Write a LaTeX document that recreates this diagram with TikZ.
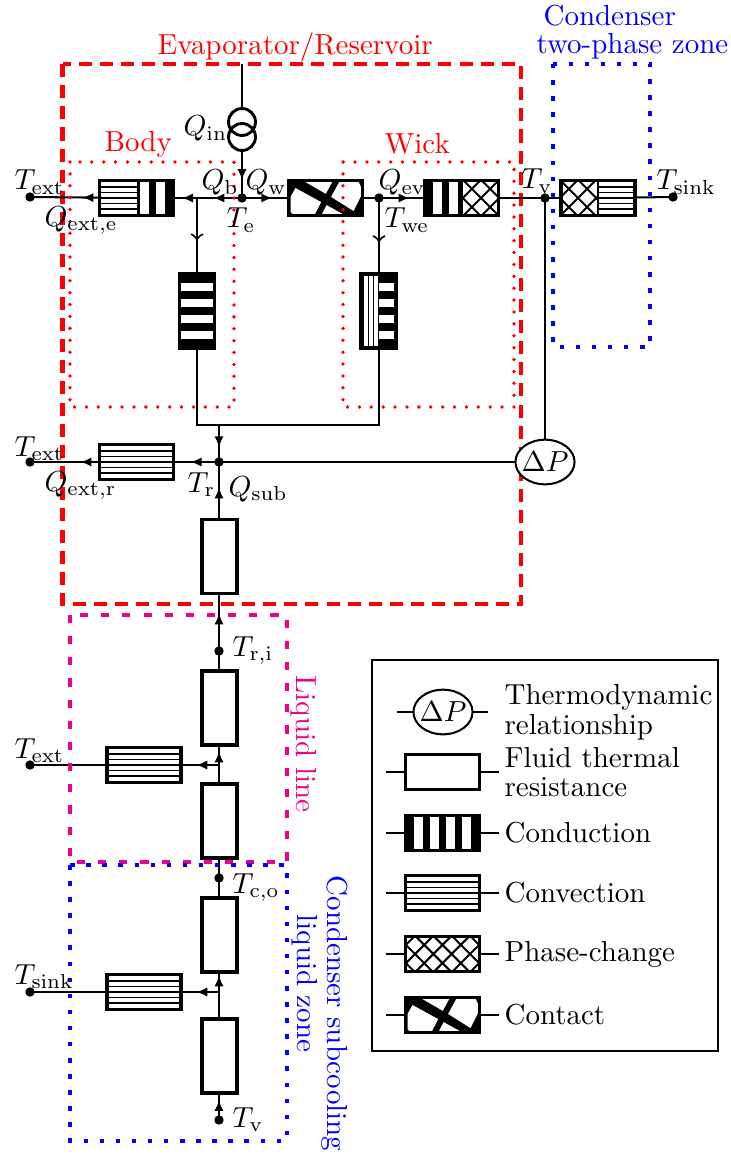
\documentclass[tikz,border=0pt]{standalone}
\usepackage{xcolor}
\usetikzlibrary{arrows.meta,shapes.geometric,decorations.markings}
\definecolor{framemagenta}{HTML}{EC008C}
\newcommand{\convzone}[2]{\foreach \yy in {-16.5,-11,-5.5,0,5.5,11,16.5} {\draw[line width=.4pt] (#1,\yy) -- (#2,\yy);}}
\newcommand{\convzonev}{\foreach \xx in {-15,-10,-5,0} {\draw[line width=.4pt] (\xx,-38) -- (\xx,38);}}
\newcommand{\condzone}[3]{\fill[black] (#1,-20) rectangle (#2,20); \foreach \xx in {#3} {\fill[white] (\xx-4.2,-17) rectangle (\xx+4.2,17);}}
\newcommand{\condzonev}[2]{\fill[black] (#1,-38) rectangle (#2,38); \foreach \yy in {-24,-8,8,24} {\fill[white] (#1,\yy-4.2) rectangle (#2,\yy+4.2);}}
\newcommand{\phasezone}[3]{\begin{scope}
    \clip (#1,-20) rectangle (#2,20);
    \foreach \kk in {-3,...,3} {
        \pgfmathsetmacro{\phc}{\kk*18.3+(#3)}
        \draw[line width=.7pt] (\phc-30,-30) -- (\phc+30,30);
        \draw[line width=.7pt] (\phc+30,-30) -- (\phc-30,30);
    }
\end{scope}}
\newcommand{\contactzone}{\fill[black] (-40,-20) rectangle (40,20);
    \fill[white] (-30,-10) -- (-4.3,4.1) -- (-11,17) -- (-32,17) -- (-35,14) -- (-35,-1) -- cycle;
    \fill[white] (-21,-16.5) -- (7,-16.5) -- (.3,-4.2) -- cycle;
    \fill[white] (14,-16.5) -- (33,-16.5) -- (36,-10) -- (36,-3) -- (28,13) -- (5.6,-1.1) -- cycle;
    \fill[white] (1.1,7.1) -- (19,17) -- (-4,17) -- cycle;}
\tikzset{
    wire/.style={line width=.7pt},
    flow/.style={wire,postaction={decorate},decoration={markings,mark=at position #1 with {\arrow{>}}}},
    openflow/.style={wire,postaction={decorate},decoration={markings,mark=at position #1 with {\arrow{to}}}},
    rbox/.style={draw,fill=white,line width=1.2pt,minimum width=25.6pt,minimum height=12.2pt,inner sep=0pt,outer sep=0pt},
    rboxv/.style={rbox,minimum width=12.2pt,minimum height=25.6pt},
    fluidbox/.style={rbox},
    fluidboxv/.style={rboxv},
    condbox/.style={rbox,path picture={\condzone{-40}{40}{-24,-8,8,24}}},
    convbox/.style={rbox,path picture={\convzone{-40}{40}}},
    phasebox/.style={rbox,path picture={\phasezone{-40}{40}{9.15}}},
    contactbox/.style={rbox,path picture={\contactzone}},
    relation/.style={draw,ellipse,line width=.7pt,fill=white,minimum width=20.4pt,minimum height=15.4pt,inner xsep=-1.1pt,inner ysep=0pt,outer sep=0pt},
    srccircle/.style={draw,circle,line width=1pt,minimum size=9.3pt,inner sep=0pt,outer sep=0pt},
    tnode/.style={draw,circle,fill=black,minimum size=2.8pt,inner sep=0pt,outer sep=0pt},
    lbl/.style={inner sep=0pt,anchor=base west},
    lblrot/.style={inner sep=0pt,anchor=base west,rotate=-90},
    legendtxt/.style={inner sep=0pt,anchor=west,align=left},
    reddash/.style={draw=red,line width=1.4pt,dash pattern=on 4.5pt off 2.8pt},
    reddot/.style={draw=red,line width=1.3pt,line cap=round,dash pattern=on 0pt off 4.1pt},
    bluedot/.style={draw=blue,line width=1.4pt,dash pattern=on 1.55pt off 4pt},
    magentadash/.style={draw=framemagenta,line width=1.2pt,dash pattern=on 2.8pt off 4.5pt}
}
\begin{document}
\begin{tikzpicture}[x=.345pt,y=-.345pt,font=\fontsize{10}{10.2}\selectfont,>={Latex[length=3.8pt,width=3.2pt]}]
    \useasboundingbox (0,0) rectangle (730,1156);

    \draw[reddash] (62.5,64) rectangle (521,604);

    \coordinate (qintop) at (242,64);
    \node[srccircle] (srctop) at (242,122) {};
    \node[srccircle] (srcbot) at (242,137) {};
    \node[tnode] (te) at (242,198) {};
    \coordinate (bodyjoin) at (197,198);
    \node[tnode] (extbody) at (30,197) {};
    \node[rbox,path picture={\convzone{-40}{0}\condzone{0}{40}{8,24}}] (bodyext) at (136.5,198) {};
    \node[contactbox] (wickcontact) at (325.5,198) {};
    \node[tnode] (we) at (379,198) {};
    \node[rbox,path picture={\condzone{-40}{1}{-24,-8}\phasezone{1}{40}{19.5}}] (wickevap) at (461.5,198) {};
    \node[tnode] (tv) at (545,198) {};
    \node[rbox,path picture={\phasezone{-40}{0}{-20}\convzone{0}{40}\draw[line width=.7pt] (0,-20) -- (0,20);}] (condtwo) at (598,198) {};
    \node[tnode] (sink) at (673,197) {};
    \node[rboxv,path picture={\condzonev{-20}{20}}] (bodycond) at (197,311) {};
    \node[rboxv,path picture={\convzonev\condzonev{0}{20}}] (wickcond) at (378.5,311) {};
    \coordinate (bodyleg) at (197,425);
    \coordinate (wickleg) at (379,425);
    \coordinate (resmerge) at (219,425);
    \node[tnode] (res) at (219,462) {};
    \node[convbox] (resext) at (136.5,462) {};
    \node[tnode] (extres) at (30,462) {};
    \node[relation] (dp) at (545,462) {\(\Delta P\)};
    \node[fluidboxv] (resfluid) at (219.5,556.5) {};
    \node[tnode] (ri) at (219,651) {};
    \node[fluidboxv] (lineup) at (219.5,708) {};
    \coordinate (linejoin) at (219,765);
    \node[fluidboxv] (linedown) at (219.5,821) {};
    \node[convbox] (lineconv) at (144,765) {};
    \node[tnode] (extline) at (30,765) {};
    \node[tnode] (co) at (219,878) {};
    \node[fluidboxv] (subup) at (219.5,935) {};
    \coordinate (subjoin) at (219,992);
    \node[fluidboxv] (subdown) at (219.5,1056) {};
    \node[convbox] (subconv) at (144,992) {};
    \node[tnode] (sinksub) at (30,992) {};
    \node[tnode] (tvsub) at (219,1120) {};

    \draw[wire] (qintop) -- (srctop);
    \draw[flow=.68] (srcbot) -- (te);
    \draw[flow=.6] (te) -- (bodyjoin);
    \draw[flow=.64] (bodyjoin) -- (bodyext);
    \draw[flow=.26] (bodyext) -- (extbody);
    \draw[flow=.62] (te) -- (wickcontact);
    \draw[wire] (wickcontact) -- (we);
    \draw[flow=.64] (we) -- (wickevap);
    \draw[wire] (wickevap) -- (tv);
    \draw[wire] (tv) -- (condtwo);
    \draw[wire] (condtwo) -- (sink);
    \draw[openflow=.56] (bodyjoin) -- (bodycond);
    \draw[openflow=.56] (we) -- (we |- wickcond.north);
    \draw[wire] (bodycond) -- (bodyleg) -- (wickleg) -- (we |- wickcond.south);
    \draw[flow=.68] (resmerge) -- (res);
    \draw[flow=.59] (res) -- (resext);
    \draw[flow=.29] (resext) -- (extres);
    \draw[wire] (res) -- (dp);
    \draw[wire] (tv) -- (dp);
    \draw[flow=.6] (res |- resfluid.north) -- (res);
    \draw[flow=.63] (ri) -- (res |- resfluid.south);
    \draw[wire] (ri) -- (ri |- lineup.north);
    \draw[flow=.84] (linejoin |- linedown.north) -- (linejoin |- lineup.south);
    \draw[flow=.6] (linejoin) -- (lineconv);
    \draw[wire] (lineconv) -- (extline);
    \draw[wire] (linejoin |- linedown.south) -- (co);
    \draw[wire] (co) -- (co |- subup.north);
    \draw[flow=.93] (subjoin |- subdown.north) -- (subjoin |- subup.south);
    \draw[flow=.6] (subjoin) -- (subconv);
    \draw[wire] (subconv) -- (sinksub);
    \draw[flow=.7] (tvsub) -- (tvsub |- subdown.south);

    \draw[reddot] (70,162) rectangle (234,407);
    \draw[reddot] (343,162) rectangle (514,407);
    \draw[bluedot] (553,64) rectangle (650,347);
    \draw[magentadash] (70,615) rectangle (287,862);
    \draw[bluedot] (70,865) rectangle (287,1141);

    \node[lbl,red] (evaplbl) at (157,55) {Evaporator/Reservoir};
    \node[lbl,blue] (condlbl) at (543,26) {Condenser};
    \node[lbl,blue] (twolbl) at (536,54) {two-phase zone};
    \node[lbl,red] (bodylbl) at (104,152) {Body};
    \node[lbl,red] (wicklbl) at (384,154) {Wick};
    \node[lbl] (qin) at (183,136) {\(Q_{\mathrm{in}}\)};
    \node[lbl] (textbody) at (14,190) {\(T_{\mathrm{ext}}\)};
    \node[lbl] (qexte) at (44,226) {\(Q_{\mathrm{ext,e}}\)};
    \node[lbl] (qb) at (201,190) {\(Q_{\mathrm{b}}\)};
    \node[lbl] (qw) at (245,190) {\(Q_{\mathrm{w}}\)};
    \node[lbl] (telbl) at (226,228) {\(T_{\mathrm{e}}\)};
    \node[lbl] (qev) at (378,190) {\(Q_{\mathrm{ev}}\)};
    \node[lbl] (twe) at (384,228) {\(T_{\mathrm{we}}\)};
    \node[lbl] (tvlbl) at (521,189) {\(T_{\mathrm{v}}\)};
    \node[lbl] (tsink) at (656,190) {\(T_{\mathrm{sink}}\)};
    \node[lbl] (textres) at (14,456) {\(T_{\mathrm{ext}}\)};
    \node[lbl] (qextr) at (44,491) {\(Q_{\mathrm{ext,r}}\)};
    \node[lbl] (trlbl) at (187,492) {\(T_{\mathrm{r}}\)};
    \node[lbl] (qsub) at (228,496) {\(Q_{\mathrm{sub}}\)};
    \node[lbl] (trilbl) at (232,656) {\(T_{\mathrm{r,i}}\)};
    \node[lbl] (textline) at (14,758) {\(T_{\mathrm{ext}}\)};
    \node[lbl] (tcolbl) at (232,893) {\(T_{\mathrm{c,o}}\)};
    \node[lbl] (tsinksub) at (14,984) {\(T_{\mathrm{sink}}\)};
    \node[lbl] (tvsublbl) at (232,1127) {\(T_{\mathrm{v}}\)};
    \node[lblrot,framemagenta] (linelbl) at (296,675) {Liquid line};
    \node[lblrot,blue] (sublbl) at (327,875) {Condenser subcooling};
    \node[lblrot,blue] (zonelbl) at (297,914) {liquid zone};

    \draw[line width=.7pt] (372,660) rectangle (718,1051);
    \coordinate (lgdpl) at (397,712);
    \coordinate (lgdpr) at (488,712);
    \node[relation] (lgdp) at (443,712) {\(\Delta P\)};
    \draw[wire] (lgdpl) -- (lgdp) -- (lgdpr);
    \node[legendtxt] (lgdptxt) at (504,712) {Thermodynamic\\relationship};
    \coordinate (lgfluidl) at (386,772);
    \coordinate (lgfluidr) at (499,772);
    \node[fluidbox] (lgfluid) at (442.5,772) {};
    \draw[wire] (lgfluidl) -- (lgfluid) -- (lgfluidr);
    \node[legendtxt] (lgfluidtxt) at (504,772) {Fluid thermal\\resistance};
    \coordinate (lgcondl) at (386,833);
    \coordinate (lgcondr) at (499,833);
    \node[condbox] (lgcond) at (442.5,833) {};
    \draw[wire] (lgcondl) -- (lgcond) -- (lgcondr);
    \node[legendtxt] (lgcondtxt) at (504,833) {Conduction};
    \coordinate (lgconvl) at (386,893);
    \coordinate (lgconvr) at (499,893);
    \node[convbox] (lgconv) at (442.5,893) {};
    \draw[wire] (lgconvl) -- (lgconv) -- (lgconvr);
    \node[legendtxt] (lgconvtxt) at (504,893) {Convection};
    \coordinate (lgphasel) at (386,954);
    \coordinate (lgphaser) at (499,954);
    \node[phasebox] (lgphase) at (442.5,954) {};
    \draw[wire] (lgphasel) -- (lgphase) -- (lgphaser);
    \node[legendtxt] (lgphasetxt) at (504,954) {Phase-change};
    \coordinate (lgcontactl) at (386,1015);
    \coordinate (lgcontactr) at (499,1015);
    \node[contactbox] (lgcontact) at (442.5,1015) {};
    \draw[wire] (lgcontactl) -- (lgcontact) -- (lgcontactr);
    \node[legendtxt] (lgcontacttxt) at (504,1015) {Contact};
\end{tikzpicture}
\end{document}
